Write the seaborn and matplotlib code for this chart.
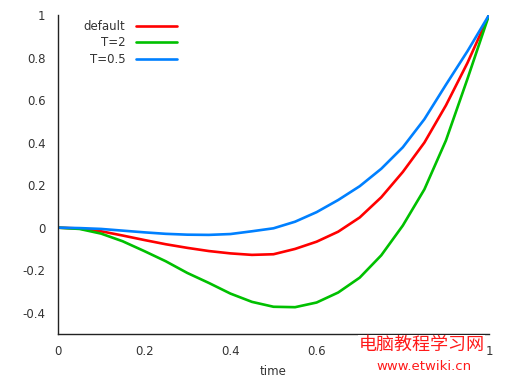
import pandas as pd
import matplotlib
matplotlib.use("Agg")
import matplotlib.pyplot as plt
import seaborn as sns

sns.set_theme(style="white")
plt.rcParams['font.family'] = ['DejaVu Sans']

# values, step 0.05
time = [0, 0.05, 0.1, 0.15, 0.2, 0.25, 0.3, 0.35, 0.4, 0.45, 0.5,
        0.55, 0.6, 0.65, 0.7, 0.75, 0.8, 0.85, 0.9, 0.95, 1]
default = [0, -0.004, -0.017, -0.037, -0.058, -0.078, -0.095, -0.11, -0.121, -0.128, -0.125,
           -0.1, -0.066, -0.019, 0.048, 0.143, 0.262, 0.4, 0.575, 0.775, 1]
t2 = [0, -0.006, -0.028, -0.064, -0.11, -0.158, -0.213, -0.26, -0.31, -0.349, -0.372,
      -0.374, -0.352, -0.305, -0.235, -0.13, 0.01, 0.18, 0.41, 0.7, 1]
t05 = [0, -0.002, -0.006, -0.014, -0.022, -0.029, -0.033, -0.034, -0.03, -0.017, -0.003,
       0.028, 0.073, 0.13, 0.195, 0.277, 0.378, 0.51, 0.672, 0.83, 1]

labels = ["default", "T=2", "T=0.5"]
colors = ["#ff0000", "#00c000", "#0080ff"]
xticks = [0, 0.2, 0.4, 0.6, 0.8, 1]
xtick_labels = ["0", "0.2", "0.4", "0.6", "0.8", "1"]
yticks = [-0.4, -0.2, 0, 0.2, 0.4, 0.6, 0.8, 1]
ytick_labels = ["-0.4", "-0.2", "0", "0.2", "0.4", "0.6", "0.8", "1"]

df = pd.DataFrame({
    "time": time * 3,
    "value": default + t2 + t05,
    "curve": [labels[0]] * len(time) + [labels[1]] * len(time) + [labels[2]] * len(time),
})

fig = plt.figure(figsize=(5.11, 3.82), dpi=100)
ax = fig.add_axes([0.1135, 0.1257, 0.8435, 0.835])

sns.lineplot(data=df, x="time", y="value", hue="curve", hue_order=labels,
             palette=colors, linewidth=1.9, ax=ax)

ax.set_xlim(0, 1)
ax.set_ylim(-0.5, 1)
ax.set_xticks(xticks)
ax.set_xticklabels(xtick_labels)
ax.set_yticks(yticks)
ax.set_yticklabels(ytick_labels)
ax.tick_params(direction="in", length=3.5, width=0.8, colors="#222222",
               labelsize=8.5, pad=8, labelcolor="#333333")
ax.tick_params(axis="y", pad=9)
for side in ["top", "right"]:
    ax.spines[side].set_visible(False)
for side in ["left", "bottom"]:
    ax.spines[side].set_color("#222222")
    ax.spines[side].set_linewidth(1.0)
ax.set_xlabel("time", fontsize=8.5, color="#333333", labelpad=5)
ax.set_ylabel("")

ax.legend(loc="upper right", bbox_to_anchor=(0.282, 0.992), frameon=False,
          markerfirst=False, fontsize=8.5, handlelength=3.5, handletextpad=0.9,
          labelspacing=0.3, borderpad=0.2, borderaxespad=0)
for txt in ax.get_legend().get_texts():
    txt.set_color("#333333")

# watermark of the source site
fig.text(0.825, 0.097, "电脑教程学习网", color="#ff1a1a", fontsize=13,
         ha="center", va="center", family=["Noto Sans CJK SC", "DejaVu Sans"],
         bbox=dict(facecolor="white", edgecolor="none", pad=0.5))
fig.text(0.83, 0.041, "www.etwiki.cn", color="#ff1a1a", fontsize=9.5,
         ha="center", va="center")

fig.savefig("out.png", dpi=100)
